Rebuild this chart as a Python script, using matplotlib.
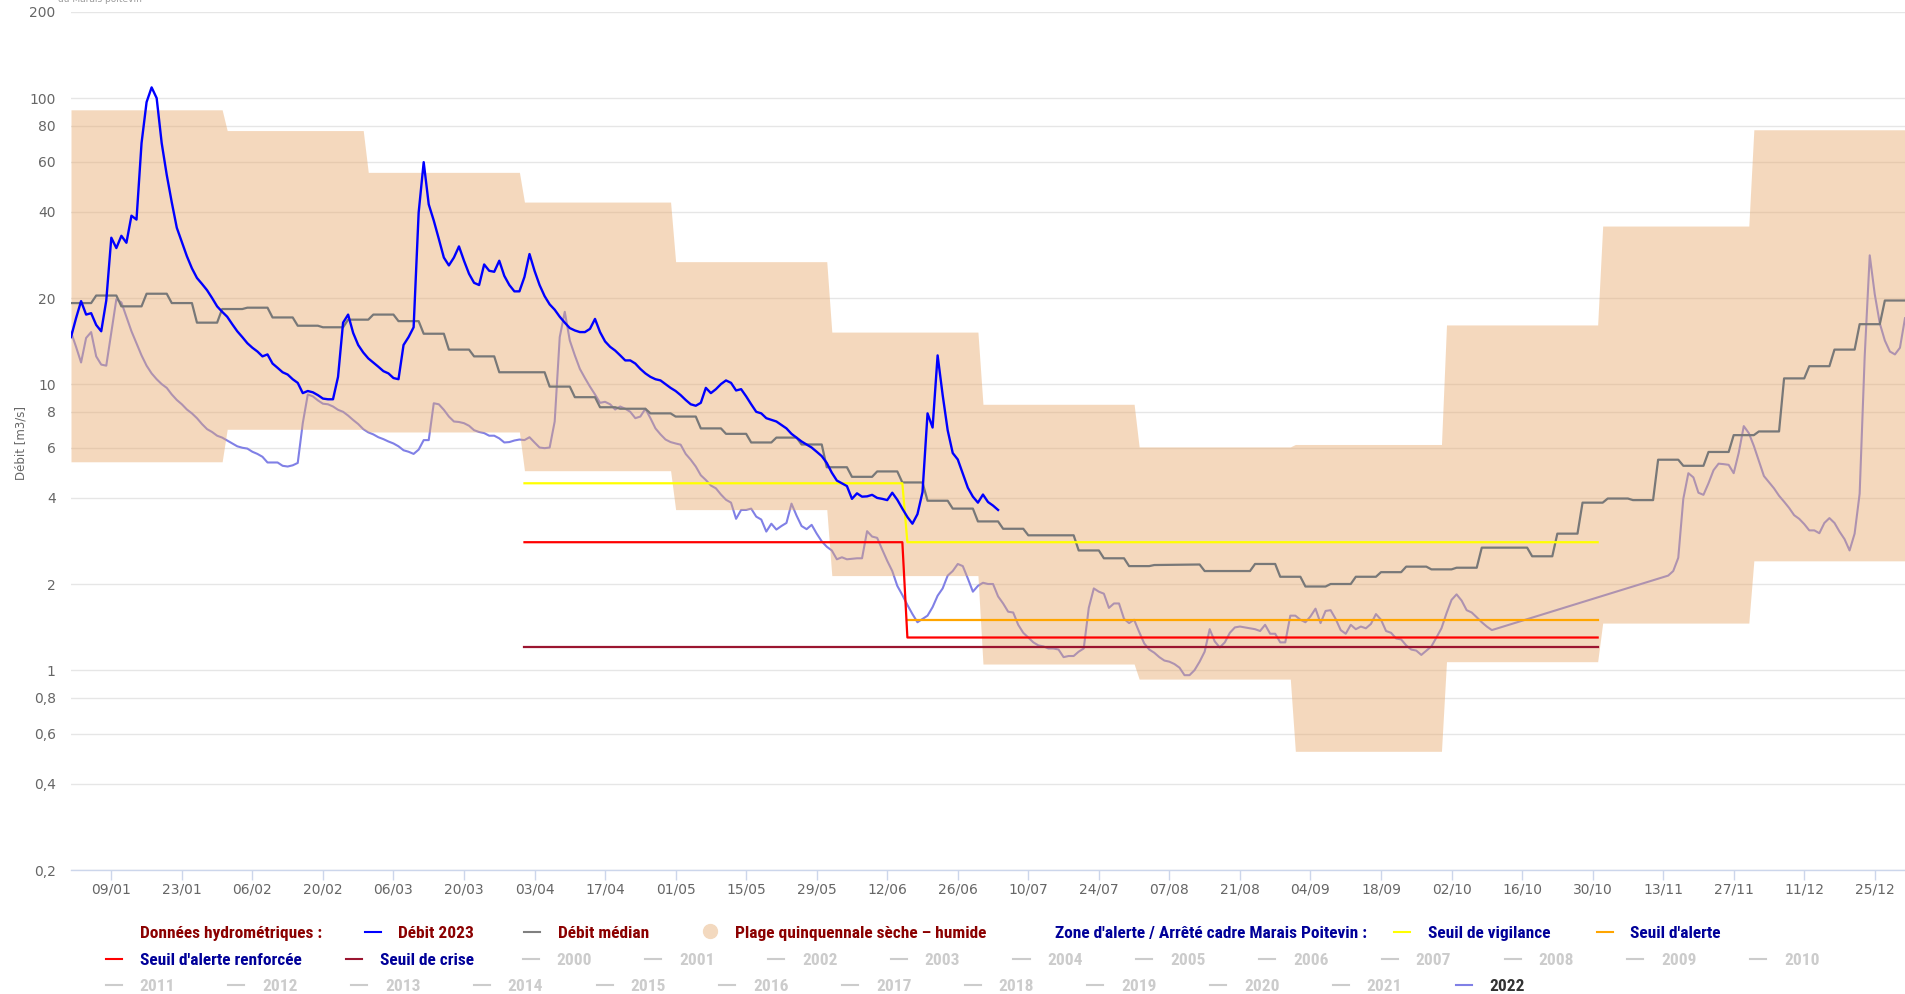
import matplotlib
matplotlib.use("Agg")
import matplotlib.pyplot as plt
from matplotlib.lines import Line2D
from matplotlib.ticker import NullLocator
from matplotlib import font_manager
import numpy as np

# ---------------- data ----------------
# Débit 2023 (daily, day-of-year from 1 Jan)
debit_2023 = [14.6, 17.0, 19.5, 17.5, 17.7, 16.1, 15.3, 19.6, 32.5, 29.9,
              33.0, 31.2, 38.8, 37.6, 69.6, 96.8, 109, 100, 69.6, 53.9,
              43.2, 35.2, 31.4, 28.0, 25.4, 23.5, 22.4, 21.3, 20.0, 18.7,
              17.9, 17.2, 16.2, 15.3, 14.6, 13.9, 13.4, 13.0, 12.5, 12.7,
              11.8, 11.4, 11.0, 10.8, 10.4, 10.1, 9.3, 9.46, 9.36, 9.15,
              8.9, 8.85, 8.85, 10.6, 16.4, 17.5, 15.1, 13.7, 12.9, 12.3,
              11.9, 11.5, 11.1, 10.9, 10.5, 10.4, 13.7, 14.6, 15.8, 39.8,
              59.7, 42.5, 37.3, 32.2, 27.7, 26.0, 27.7, 30.3, 27.0, 24.3,
              22.6, 22.2, 26.2, 24.9, 24.7, 27.0, 23.9, 22.2, 21.1, 21.1,
              23.7, 28.5, 24.9, 22.2, 20.3, 19.0, 18.2, 17.2, 16.4, 15.7,
              15.4, 15.2, 15.2, 15.6, 16.9, 15.2, 14.1, 13.5, 13.1, 12.6,
              12.1, 12.1, 11.8, 11.3, 10.9, 10.6, 10.4, 10.3, 10.0, 9.7,
              9.46, 9.15, 8.8, 8.5, 8.4, 8.6, 9.7, 9.3, 9.6, 10.0,
              10.3, 10.1, 9.5, 9.6, 9.06, 8.5, 8.0, 7.9, 7.6, 7.5,
              7.4, 7.2, 7.0, 6.7, 6.5, 6.3, 6.15, 6.0, 5.8, 5.6,
              5.3, 4.9, 4.6, 4.5, 4.4, 3.97, 4.15, 4.04, 4.05, 4.1,
              4.0, 3.97, 3.93, 4.17, 3.94, 3.67, 3.43, 3.25, 3.51, 4.19,
              7.9, 7.05, 12.6, 9.16, 6.89, 5.74, 5.45, 4.86, 4.34, 4.04,
              3.85, 4.11, 3.87, 3.76, 3.63]

# Débit médian (corner points of the stepped curve)
median_days = [0, 4, 5, 9, 10, 14, 15, 19, 20, 24, 25, 29, 30, 34, 35, 39, 40, 44,
               45, 49, 50, 54, 55, 59, 60, 64, 65, 69, 70, 74, 75, 79, 80, 84, 85, 94,
               95, 99, 100, 104, 105, 108, 109, 114, 115, 119, 120, 124, 125, 129,
               130, 134, 135, 139, 140, 144, 145, 149, 150, 154, 155, 159, 160, 164,
               165, 169, 170, 174, 175, 179, 180, 184, 185, 189, 190, 199, 200, 204,
               205, 209, 210, 214, 215, 224, 225, 234, 235, 239, 240, 244, 245, 249,
               250, 254, 255, 259, 260, 264, 265, 269, 270, 274, 275, 279, 280, 289,
               290, 294, 295, 299, 300, 304, 305, 309, 310, 314, 315, 319, 320, 324,
               325, 329, 330, 334, 335, 339, 340, 344, 345, 349, 350, 354, 355, 359,
               360, 364]
median_vals = [19.2, 19.2, 20.4, 20.4, 18.7, 18.7, 20.7, 20.7, 19.2, 19.2, 16.4, 16.4,
               18.3, 18.3, 18.5, 18.5, 17.1, 17.1, 16.0, 16.0, 15.8, 15.8, 16.8, 16.8,
               17.5, 17.5, 16.6, 16.6, 15.0, 15.0, 13.2, 13.2, 12.5, 12.5, 11.0, 11.0,
               9.8, 9.8, 9.0, 9.0, 8.3, 8.3, 8.2, 8.2, 7.9, 7.9, 7.7, 7.7, 7.0, 7.0,
               6.7, 6.7, 6.25, 6.25, 6.5, 6.5, 6.15, 6.15, 5.12, 5.12, 4.74, 4.74,
               4.95, 4.95, 4.53, 4.53, 3.91, 3.91, 3.67, 3.67, 3.31, 3.31, 3.12, 3.12,
               2.96, 2.96, 2.62, 2.62, 2.46, 2.46, 2.31, 2.31, 2.33, 2.34, 2.22, 2.22,
               2.35, 2.35, 2.12, 2.12, 1.96, 1.96, 2.0, 2.0, 2.12, 2.12, 2.2, 2.2,
               2.3, 2.3, 2.25, 2.25, 2.28, 2.28, 2.68, 2.68, 2.5, 2.5, 3.0, 3.0,
               3.85, 3.85, 3.98, 3.98, 3.93, 3.93, 5.44, 5.44, 5.18, 5.18, 5.79, 5.79,
               6.63, 6.63, 6.83, 6.83, 10.47, 10.47, 11.55, 11.55, 13.2, 13.2, 16.2, 16.2,
               19.6, 19.6]

# Débit 2022: days 0..282, then data gap, then days 317..364
debit_2022_a = [15.2, 13.5, 11.9, 14.5, 15.2, 12.5, 11.7, 11.6, 15.2, 19.8,
                19.3, 17.2, 15.3, 13.9, 12.6, 11.6, 10.9, 10.4, 10.0, 9.7,
                9.2, 8.8, 8.5, 8.15, 7.9, 7.6, 7.25, 6.96, 6.8, 6.6,
                6.5, 6.35, 6.2, 6.06, 5.99, 5.95, 5.8, 5.7, 5.57, 5.32,
                5.32, 5.32, 5.18, 5.15, 5.2, 5.3, 7.3, 9.2, 9.06, 8.77,
                8.54, 8.5, 8.35, 8.13, 8.0, 7.76, 7.49, 7.25, 6.96, 6.78,
                6.67, 6.52, 6.42, 6.3, 6.2, 6.06, 5.87, 5.8, 5.7, 5.9,
                6.37, 6.37, 8.57, 8.5, 8.13, 7.7, 7.4, 7.37, 7.3, 7.15,
                6.9, 6.8, 6.74, 6.6, 6.6, 6.46, 6.25, 6.27, 6.35, 6.4,
                6.37, 6.52, 6.25, 6.0, 5.97, 6.0, 7.4, 14.6, 17.9, 14.2,
                12.6, 11.3, 10.5, 9.8, 9.2, 8.6, 8.67, 8.5, 8.15, 8.35,
                8.2, 8.0, 7.6, 7.7, 8.2, 7.6, 7.0, 6.67, 6.4, 6.27,
                6.2, 6.14, 5.7, 5.44, 5.15, 4.8, 4.62, 4.42, 4.32, 4.11,
                3.94, 3.85, 3.38, 3.63, 3.63, 3.67, 3.44, 3.36, 3.05, 3.25,
                3.1, 3.19, 3.27, 3.82, 3.47, 3.19, 3.11, 3.22, 3.0, 2.82,
                2.7, 2.62, 2.44, 2.48, 2.44, 2.45, 2.46, 2.46, 3.06, 2.93,
                2.9, 2.64, 2.41, 2.22, 1.97, 1.83, 1.69, 1.57, 1.47, 1.51,
                1.55, 1.66, 1.82, 1.93, 2.14, 2.22, 2.35, 2.31, 2.09, 1.88,
                1.97, 2.02, 2.0, 2.0, 1.81, 1.71, 1.6, 1.59, 1.44, 1.35,
                1.3, 1.25, 1.22, 1.21, 1.19, 1.19, 1.18, 1.11, 1.12, 1.12,
                1.16, 1.19, 1.65, 1.93, 1.88, 1.85, 1.65, 1.71, 1.71, 1.51,
                1.46, 1.5, 1.36, 1.24, 1.18, 1.15, 1.11, 1.08, 1.07, 1.05,
                1.02, 0.96, 0.96, 1.0, 1.07, 1.16, 1.39, 1.26, 1.2, 1.25,
                1.35, 1.41, 1.42, 1.41, 1.4, 1.39, 1.37, 1.44, 1.34, 1.34,
                1.25, 1.25, 1.55, 1.55, 1.5, 1.47, 1.54, 1.64, 1.46, 1.61,
                1.62, 1.51, 1.38, 1.34, 1.44, 1.39, 1.42, 1.4, 1.45, 1.57,
                1.5, 1.37, 1.35, 1.29, 1.28, 1.22, 1.18, 1.17, 1.13, 1.17,
                1.21, 1.3, 1.4, 1.58, 1.76, 1.84, 1.75, 1.62, 1.59, 1.53,
                1.47, 1.42, 1.38]
debit_2022_b_start = 317
debit_2022_b = [2.14, 2.22, 2.47, 3.97, 4.88, 4.72, 4.17, 4.1, 4.5, 5.0,
                5.27, 5.25, 5.22, 4.88, 5.75, 7.13, 6.74, 6.08, 5.39, 4.77,
                4.54, 4.32, 4.07, 3.88, 3.69, 3.48, 3.38, 3.24, 3.08, 3.08,
                3.01, 3.27, 3.4, 3.27, 3.05, 2.87, 2.62, 3.0, 4.14, 12.5,
                28.2, 20.6, 16.3, 14.2, 13.0, 12.7, 13.4, 17.0]

# Plage quinquennale sèche - humide (monthly)
month_start = [0, 31, 59, 90, 120, 151, 181, 212, 243, 273, 304, 334]
band_upper = [91, 77, 55, 43.3, 26.8, 15.2, 8.5, 6.03, 6.15, 16.1, 35.7, 77.5]
band_lower = [5.35, 6.95, 6.8, 4.98, 3.64, 2.14, 1.05, 0.93, 0.52, 1.07, 1.46, 2.41]

# Seuils (arrêté cadre)
vigilance_days = [90, 165, 166, 303]
vigilance_vals = [4.5, 4.5, 2.8, 2.8]
alerte_days = [166, 303]
alerte_vals = [1.5, 1.5]
renforcee_days = [90, 165, 166, 303]
renforcee_vals = [2.8, 2.8, 1.3, 1.3]
crise_days = [90, 303]
crise_vals = [1.2, 1.2]

ytick_vals = [0.2, 0.4, 0.6, 0.8, 1, 2, 4, 6, 8, 10, 20, 40, 60, 80, 100, 200]
ytick_labels = ["0,2", "0,4", "0,6", "0,8", "1", "2", "4", "6", "8", "10",
                "20", "40", "60", "80", "100", "200"]
xtick_days = [8, 22, 36, 50, 64, 78, 92, 106, 120, 134, 148, 162, 176, 190,
              204, 218, 232, 246, 260, 274, 288, 302, 316, 330, 344, 358]
xtick_labels = ["09/01", "23/01", "06/02", "20/02", "06/03", "20/03", "03/04",
                "17/04", "01/05", "15/05", "29/05", "12/06", "26/06", "10/07",
                "24/07", "07/08", "21/08", "04/09", "18/09", "02/10", "16/10",
                "30/10", "13/11", "27/11", "11/12", "25/12"]

years_row2 = ["2000", "2001", "2002", "2003", "2004", "2005", "2006", "2007",
              "2008", "2009", "2010"]
years_row3 = ["2011", "2012", "2013", "2014", "2015", "2016", "2017", "2018",
              "2019", "2020", "2021"]

# ---------------- figure ----------------
W, H = 1905, 994
fig = plt.figure(figsize=(W / 100, H / 100), dpi=100)
ax = fig.add_axes([71 / W, 1 - 870 / H, (W - 71) / W, 858 / H])

C_2023 = "#0000ff"
C_MED = "#787878"
C_2022 = "#8080e6"
C_BAND = "#e8aa6e"
C_VIG = "#ffff00"
C_ALE = "#ffa500"
C_REN = "#ff0000"
C_CRI = "#9b1530"

# band
bx, bu, bl = [], [], []
for i in range(12):
    s = month_start[i]
    e = (month_start[i + 1] - 1) if i < 11 else 364
    bx += [s, e]
    bu += [band_upper[i]] * 2
    bl += [band_lower[i]] * 2

d22a = np.arange(len(debit_2022_a))
d22b = debit_2022_b_start + np.arange(len(debit_2022_b))
d22 = np.concatenate([d22a, d22b])
v22 = np.concatenate([debit_2022_a, debit_2022_b])
ax.plot(d22, v22, color=C_2022, lw=1.5, zorder=1, solid_joinstyle="round")

ax.fill_between(bx, bl, bu, color=C_BAND, alpha=0.45, lw=0, zorder=2)

ax.plot(median_days, median_vals, color=C_MED, lw=1.6, zorder=3)
ax.plot(vigilance_days, vigilance_vals, color=C_VIG, lw=1.6, zorder=4)
ax.plot(alerte_days, alerte_vals, color=C_ALE, lw=1.6, zorder=4)
ax.plot(renforcee_days, renforcee_vals, color=C_REN, lw=1.6, zorder=4)
ax.plot(crise_days, crise_vals, color=C_CRI, lw=1.6, zorder=4)

d23 = np.arange(len(debit_2023))
ax.plot(d23, debit_2023, color=C_2023, lw=1.7, zorder=6, solid_joinstyle="round")

ax.set_yscale("log")
ax.set_ylim(0.2, 200)
ax.set_xlim(0, 364)
ax.set_yticks(ytick_vals)
ax.set_yticklabels(ytick_labels)
ax.yaxis.set_minor_locator(NullLocator())
ax.set_xticks(xtick_days)
ax.set_xticklabels(xtick_labels)
ax.xaxis.set_minor_locator(NullLocator())
ax.grid(axis="y", color="#e6e6e6", lw=1)
ax.set_axisbelow(True)
for s in ["left", "top", "right"]:
    ax.spines[s].set_visible(False)
ax.spines["bottom"].set_color("#ccd6eb")
ax.spines["bottom"].set_linewidth(1)
ax.tick_params(axis="x", length=7.2, width=1, color="#ccd6eb", labelcolor="#666666",
               labelsize=10, pad=2)
ax.tick_params(axis="y", length=0, labelcolor="#666666", labelsize=10, pad=11)

fig.text(20.6 / W, 1 - 443 / H, "Débit [m3/s]", rotation=90, ha="center", va="center",
         color="#666666", fontsize=8.5)
fig.text(58 / W, 1 - 2 / H, "du Marais poitevin", ha="left", va="baseline",
         color="#999999", fontsize=6.5)

# ---------------- legend ----------------
# pick a condensed family if one is installed, else shrink DejaVu Sans
_installed = {f.name for f in font_manager.fontManager.ttflist}
_cands = ["Roboto Condensed", "Open Sans Condensed", "DejaVu Sans Condensed",
          "Liberation Sans Narrow", "Noto Sans Condensed"]
_found = [c for c in _cands if c in _installed]
if _found:
    LEG_FONT = [_found[0], "DejaVu Sans"]
    LEG_SIZE = 12.5
    LEG_STRETCH = "normal"
else:
    LEG_FONT = ["DejaVu Sans"]
    LEG_SIZE = 9.3
    LEG_STRETCH = "condensed"

DARKRED = "#8b0000"
NAVY = "#000099"
GREY = "#cccccc"


def fx(x):
    return x / W


def fy(y):
    return 1 - y / H


def leg_text(x, y, label, color):
    fig.text(fx(x), fy(y), label, ha="left", va="center_baseline", color=color,
             fontsize=LEG_SIZE, fontweight="bold", family=LEG_FONT,
             fontstretch=LEG_STRETCH)


def leg_item(x, y, label, mcolor, tcolor):
    fig.add_artist(Line2D([fx(x - 34), fx(x - 18)], [fy(y), fy(y)], color=mcolor,
                          lw=1.5, transform=fig.transFigure))
    leg_text(x, y, label, tcolor)


r1, r2, r3 = 932, 959, 985
leg_text(140, r1, "Données hydrométriques :", DARKRED)
leg_item(398.5, r1, "Débit 2023", C_2023, DARKRED)
leg_item(558, r1, "Débit médian", "#808080", DARKRED)
fig.add_artist(Line2D([fx(710)], [fy(r1 - 1)], marker="o", markersize=10, color="#f3d9bf",
                      lw=0, transform=fig.transFigure))
leg_text(735, r1, "Plage quinquennale sèche – humide", DARKRED)
leg_text(1054.6, r1, "Zone d'alerte / Arrêté cadre Marais Poitevin :", NAVY)
leg_item(1427.6, r1, "Seuil de vigilance", C_VIG, NAVY)
leg_item(1630.5, r1, "Seuil d'alerte", C_ALE, NAVY)

leg_item(139.7, r2, "Seuil d'alerte renforcée", C_REN, NAVY)
leg_item(380, r2, "Seuil de crise", C_CRI, NAVY)
for k, yr in enumerate(years_row2):
    leg_item(556.5 + k * 122.75, r2, yr, GREY, GREY)
for k, yr in enumerate(years_row3):
    leg_item(139.7 + k * 122.7, r3, yr, GREY, GREY)
leg_item(1489.5, r3, "2022", C_2022, "#333333")

fig.savefig("out.png", dpi=100)
